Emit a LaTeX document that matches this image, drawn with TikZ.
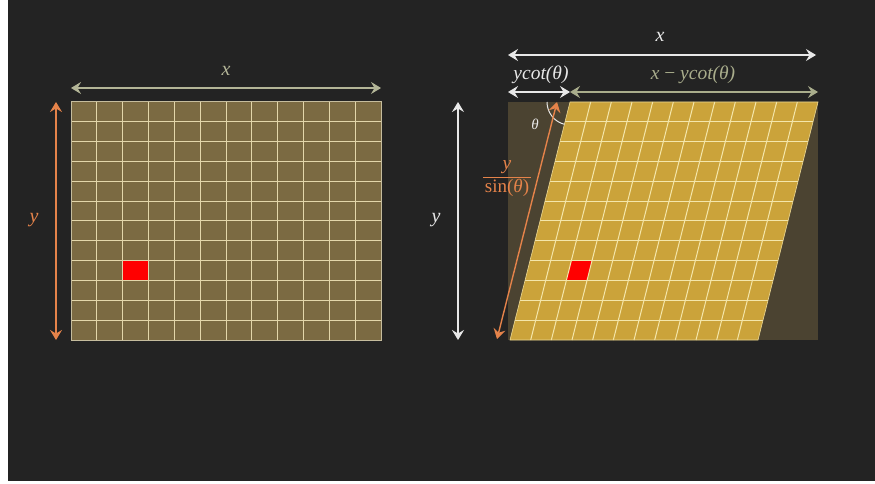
\documentclass[tikz,border=0pt]{standalone}
\usepackage{fontspec}
\setmainfont{Liberation Serif}
\usetikzlibrary{arrows.meta}
\definecolor{bgc}{HTML}{232323}
\definecolor{gridfill}{HTML}{7B6A42}
\definecolor{gridline}{HTML}{E3D6AA}
\definecolor{xarrow}{HTML}{B3B597}
\definecolor{orng}{HTML}{E5834A}
\definecolor{rbg}{HTML}{4B4331}
\definecolor{gold}{HTML}{CBA33A}
\definecolor{goldline}{HTML}{F4E6AA}
\definecolor{wht}{HTML}{E8E8E8}
\definecolor{olv}{HTML}{A9AD8C}
\tikzset{
  dimarrow/.style={line width=1.8pt,{Stealth[length=10pt,width=12pt,inset=3.5pt]}-{Stealth[length=10pt,width=12pt,inset=3.5pt]}},
  lbl/.style={inner sep=0pt,font=\fontsize{20}{23}\selectfont\itshape},
  sublbl/.style={inner sep=0pt,font=\fontsize{19.5}{22}\selectfont\itshape},
}
\begin{document}
\begin{tikzpicture}[x=1pt,y=-1pt]
\useasboundingbox (0,0) rectangle (875,484);
\fill[white] (0,0) rectangle (875,484);
\fill[bgc] (8,0) rectangle (875,481);
% ---------- left grid ----------
\coordinate (LTL) at (71,102);
\coordinate (LTR) at (381,102);
\coordinate (LBL) at (71,340);
\coordinate (LBR) at (381,340);
\fill[gridfill] (LTL) rectangle (LBR);
\fill[red] (122.67,260.67) rectangle (148.5,280.5);
\foreach \i in {1,...,11}{
  \draw[gridline,line width=1pt] (71+25.833*\i,102) -- (71+25.833*\i,340);
  \draw[gridline,line width=1pt] (71,102+19.833*\i) -- (381,102+19.833*\i);
}
\draw[gridline!70!gray,line width=1pt] (LTL) rectangle (LBR);
\coordinate (LXa) at (71,88);
\coordinate (LXb) at (381,88);
\draw[dimarrow,xarrow] (LXa) -- (LXb);
\node[lbl,text=xarrow] (lx) at (226,71) {x};
\coordinate (LYa) at (56,102);
\coordinate (LYb) at (56,340);
\draw[dimarrow,orng,line width=1.6pt] (LYa) -- (LYb);
\node[lbl,text=orng] (ly) at (34,220) {y};
% ---------- right figure ----------
\coordinate (RTL) at (508,102);
\coordinate (RBR) at (818,340);
\fill[rbg] (RTL) rectangle (RBR);
\coordinate (P1) at (570,102);
\coordinate (P2) at (818,102);
\coordinate (P3) at (758,340);
\coordinate (P4) at (510,340);
\fill[gold] (P1) -- (P2) -- (P3) -- (P4) -- cycle;
% red cell: column 2, row 8
\fill[red] (570-5*8+20.667*2,102+19.833*8) -- (570-5*8+20.667*3,102+19.833*8)
  -- (570-5*9+20.667*3,102+19.833*9) -- (570-5*9+20.667*2,102+19.833*9) -- cycle;
\foreach \i in {1,...,11}{
  \draw[goldline,line width=1pt] (570+20.667*\i,102) -- (510+20.667*\i,340);
  \draw[goldline,line width=1pt] (570-5*\i,102+19.833*\i) -- (818-5*\i,102+19.833*\i);
}
\draw[goldline!80!gold,line width=0.6pt] (P1) -- (P2) -- (P3) -- (P4) -- cycle;
% theta arc
\draw[wht,line width=1pt] (P1) ++(180:23) arc[start angle=180,end angle=104.15,radius=23];
\node[lbl,text=wht,font=\fontsize{15}{17}\selectfont\itshape] (th) at (535,124) {θ};
% top dimension arrows
\coordinate (RXa) at (508,55);
\coordinate (RXb) at (816,55);
\draw[dimarrow,wht] (RXa) -- (RXb);
\node[lbl,text=wht] (rx) at (660,37) {x};
\coordinate (Ca) at (508,92);
\coordinate (Cb) at (570,92);
\coordinate (Cc) at (818,92);
\draw[dimarrow,wht] (Ca) -- (Cb);
\draw[dimarrow,olv] (Cb) -- (Cc);
\node[sublbl,text=wht] (ycot) at (541,75) {ycot(θ)};
\node[sublbl,text=olv] (xmy) at (693,75) {x {\upshape −} ycot(θ)};
% right y arrow
\coordinate (RYa) at (458,102);
\coordinate (RYb) at (458,340);
\draw[dimarrow,wht,line width=1.6pt] (RYa) -- (RYb);
\node[lbl,text=wht] (ry) at (436,220) {y};
% slanted orange arrow
\coordinate (Sa) at (557,102);
\coordinate (Sb) at (497,339);
\draw[dimarrow,orng,line width=1.4pt] (Sa) -- (Sb);
\node[sublbl,text=orng] (fy) at (507,167) {y};
\node[inner sep=0pt,text=orng,font=\fontsize{19}{22}\selectfont] (fs) at (507,187.5) {sin(\textit{θ})};
\coordinate (FLa) at (483,177.5);
\coordinate (FLb) at (531,177.5);
\draw[orng,line width=0.9pt] (FLa) -- (FLb);
\end{tikzpicture}
\end{document}
